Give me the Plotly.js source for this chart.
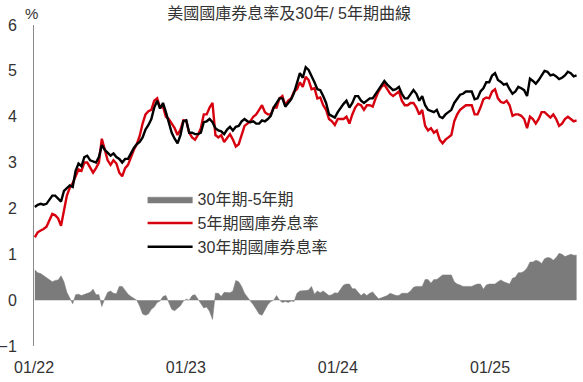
<!DOCTYPE html>
<html>
<head>
<meta charset="utf-8">
<script src="https://cdn.plot.ly/plotly-3.0.1.min.js"></script>
<style>html,body{margin:0;padding:0;background:#fff;}#chart{width:583px;height:382px;}</style>
</head>
<body>
<div id="chart"></div>
<script>
// Weekly observations starting Monday 2022-01-03
const startDate = '2022-01-03';
const stepDays = 7;

// 5-year Treasury yield (%)
const yield5 = [
  1.37, 1.48, 1.52, 1.55, 1.60, 1.75, 1.88, 1.85, 1.78, 1.62,
  1.98, 2.28, 2.45, 2.55, 2.70, 2.85, 2.82, 3.00, 3.00, 2.88,
  2.78, 2.88, 3.00, 3.52, 3.25, 3.05, 2.95, 3.05, 2.98, 2.78,
  2.70, 2.88, 2.95, 3.12, 3.28, 3.40, 3.58, 3.85, 4.05, 4.12,
  4.15, 4.35, 4.40, 4.20, 4.22, 4.00, 3.95, 3.85, 3.75, 3.60,
  3.72, 3.92,
  3.90, 3.65, 3.55, 3.50, 3.60, 3.75, 4.05, 4.05, 4.20, 4.30,
  3.60, 3.55, 3.60, 3.45, 3.55, 3.62, 3.50, 3.35, 3.40, 3.60,
  3.80, 3.85, 3.90, 4.00, 4.05, 4.15, 4.25, 4.10, 4.05, 4.05,
  4.20, 4.20, 4.40, 4.45, 4.25, 4.35, 4.40, 4.55, 4.60, 4.75,
  4.65, 4.87, 4.80, 4.60, 4.62, 4.40, 4.42, 4.25, 4.15, 3.95,
  3.90, 3.82,
  3.95, 3.95, 3.95, 4.00, 3.85, 4.05, 4.20, 4.28, 4.25, 4.15,
  4.25, 4.25, 4.22, 4.40, 4.55, 4.65, 4.70, 4.60, 4.50, 4.45,
  4.50, 4.55, 4.35, 4.25, 4.25, 4.30, 4.30, 4.20, 4.05, 4.15,
  3.80, 3.70, 3.75, 3.65, 3.70, 3.50, 3.42, 3.50, 3.55, 3.60,
  3.90, 4.05, 4.15, 4.20, 4.25, 4.25, 4.25, 4.05, 4.05, 4.20,
  4.38, 4.42, 4.40,
  4.55, 4.60, 4.40, 4.32, 4.30, 4.35, 4.25, 4.02, 4.05, 4.05,
  4.02, 3.95, 3.75, 4.00, 3.95, 3.85, 3.95, 4.10, 4.10, 4.05,
  3.98, 4.05, 3.95, 3.80, 3.85, 3.95, 4.00, 3.95, 3.90, 3.92
];

// 30-year Treasury yield (%)
const yield30 = [
  2.03, 2.08, 2.10, 2.08, 2.10, 2.20, 2.28, 2.28, 2.22, 2.15,
  2.38, 2.45, 2.50, 2.47, 2.82, 2.98, 2.92, 3.12, 3.15, 3.05,
  3.02, 3.00, 3.12, 3.38, 3.28, 3.22, 3.15, 3.20, 3.12, 3.08,
  3.00, 3.08, 3.08, 3.20, 3.32, 3.40, 3.45, 3.55, 3.72, 3.82,
  3.95, 4.20, 4.35, 4.18, 4.30, 4.10, 3.90, 3.65, 3.52, 3.42,
  3.60, 3.90,
  3.92, 3.65, 3.65, 3.62, 3.62, 3.65, 3.88, 3.90, 3.95, 3.88,
  3.75, 3.70, 3.68, 3.62, 3.72, 3.78, 3.70, 3.78, 3.80, 3.90,
  3.95, 3.90, 3.88, 3.90, 3.85, 3.85, 3.92, 3.90, 3.95, 4.02,
  4.20, 4.30, 4.40, 4.40, 4.22, 4.30, 4.38, 4.52, 4.75, 4.95,
  4.85, 5.08, 5.02, 4.90, 4.75, 4.60, 4.58, 4.45, 4.30, 4.05,
  4.02, 3.98,
  4.10, 4.20, 4.28, 4.35, 4.20, 4.30, 4.45, 4.45, 4.35, 4.30,
  4.35, 4.40, 4.40, 4.50, 4.58, 4.70, 4.78, 4.70, 4.65, 4.58,
  4.60, 4.65, 4.50, 4.40, 4.40, 4.50, 4.58, 4.50, 4.35, 4.45,
  4.25, 4.15, 4.12, 4.10, 4.15, 4.00, 3.97, 4.05, 4.10, 4.15,
  4.30, 4.40, 4.48, 4.50, 4.55, 4.55, 4.55, 4.38, 4.40, 4.55,
  4.62, 4.75, 4.75,
  4.90, 4.95, 4.80, 4.76, 4.70, 4.72, 4.60, 4.50, 4.55, 4.65,
  4.62, 4.58, 4.45, 4.83, 4.78, 4.72, 4.80, 4.90, 5.00, 4.98,
  4.90, 4.92, 4.88, 4.82, 4.85, 4.90, 4.98, 4.95, 4.88, 4.90
];

const seriesNames = ['30年期-5年期', '5年期國庫券息率', '30年期國庫券息率'];
const tickDates = ['2022-01-01', '2023-01-01', '2024-01-01', '2025-01-01'];
const tickLabels = ['01/22', '01/23', '01/24', '01/25'];
const yTicks = [-1, 0, 1, 2, 3, 4, 5, 6];

// build dates
const dates = [];
const d0 = new Date(startDate + 'T00:00:00Z');
for (let i = 0; i < yield5.length; i++) {
  const d = new Date(d0.getTime() + i * stepDays * 86400000);
  dates.push(d.toISOString().slice(0, 10));
}
const spread = yield30.map((v, i) => +(v - yield5[i]).toFixed(2));

const FONT = 'Liberation Sans, Arial, Noto Sans CJK TC, sans-serif';

const traces = [
  {x: dates, y: spread, name: seriesNames[0], type: 'scatter', mode: 'lines',
   fill: 'tozeroy', fillcolor: '#7b7b7b', line: {color: '#7b7b7b', width: 0.5}},
  {x: dates, y: yield5, name: seriesNames[1], type: 'scatter', mode: 'lines',
   line: {color: '#d7000f', width: 2.4}},
  {x: dates, y: yield30, name: seriesNames[2], type: 'scatter', mode: 'lines',
   line: {color: '#000000', width: 2.4}}
];

const layout = {
  width: 583, height: 382,
  margin: {l: 34, r: 6, t: 25, b: 36},
  paper_bgcolor: '#fff', plot_bgcolor: '#fff',
  font: {family: FONT, size: 16, color: '#333'},
  title: {text: '美國國庫券息率及30年/ 5年期曲線', x: 0.496, xanchor: 'center',
          xref: 'container', y: 0.966, yanchor: 'middle', yref: 'container',
          font: {family: FONT, size: 16, color: '#333'}},
  showlegend: true,
  legend: {x: 0.2, y: 0.51, xanchor: 'left', yanchor: 'top', bgcolor: 'rgba(0,0,0,0)',
           font: {family: FONT, size: 16, color: '#333'}, itemwidth: 45, traceorder: 'normal'},
  xaxis: {type: 'date', range: ['2022-01-01', '2025-07-29'], showgrid: false, zeroline: false,
          showline: false, ticks: '', tickvals: tickDates, ticktext: tickLabels,
          ticklabelstandoff: 10, tickfont: {family: FONT, size: 16, color: '#333'}},
  yaxis: {range: [-1, 6], showgrid: false, zeroline: false, showline: true,
          linecolor: '#8a8a8a', linewidth: 1, ticks: '', tickvals: yTicks,
          ticklabelstandoff: 13, tickfont: {family: FONT, size: 16, color: '#333'}},
  annotations: [
    {text: '%', xref: 'paper', yref: 'paper', x: 0, y: 1, xshift: -3, yshift: 12,
     xanchor: 'center', yanchor: 'middle', showarrow: false,
     font: {family: FONT, size: 15, color: '#333'}}
  ]
};

Plotly.newPlot('chart', traces, layout, {displayModeBar: false, staticPlot: true});
</script>
</body>
</html>
